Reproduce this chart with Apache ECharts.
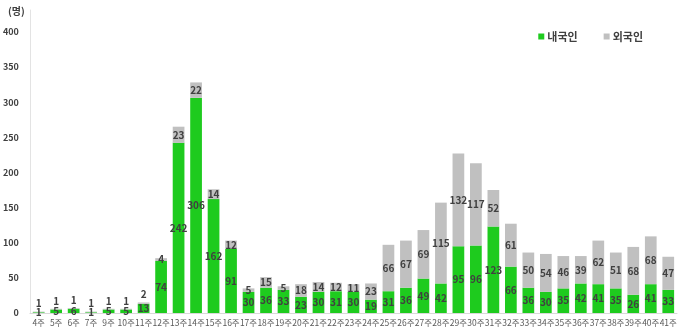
<!DOCTYPE html>
<html><head><meta charset="utf-8">
<script src="https://cdn.jsdelivr.net/npm/echarts@6/dist/echarts.min.js"></script>
<style>html,body{margin:0;padding:0;background:#fff}#c{width:680px;height:334px}</style>
</head><body><div id="c"></div>
<script>
const categories = ['4주','5주','6주','7주','9주','10주','11주','12주','13주','14주','15주','16주','17주','18주','19주','20주','21주','22주','23주','24주','25주','26주','27주','28주','29주','30주','31주','32주','33주','34주','35주','36주','37주','38주','39주','40주','41주'];
const domestic = [1,5,6,1,5,5,13,74,242,306,162,91,30,36,33,23,30,31,30,19,31,36,49,42,95,96,123,66,36,30,35,42,41,35,26,41,33];
const foreign = [1,1,1,1,1,1,2,4,23,22,14,12,5,15,5,18,14,12,11,23,66,67,69,115,132,117,52,61,50,54,46,39,62,51,68,68,47];
const yTicks = [0,50,100,150,200,250,300,350,400];

const FONT = 'Noto Sans CJK KR';
const chart = echarts.init(document.getElementById('c'));
const labelStyle = {show:true, color:'#404040', fontFamily:FONT, fontWeight:'bold', fontSize:10};
const foreignData = foreign.map((v,i)=> {
  const tot = v + domestic[i];
  if (tot < 20) return {value:v, label:{position:'top', distance:3}};
  return v;
});
chart.setOption({
  animation:false,
  title:{text:'(명)', left:3, top:1, textStyle:{fontFamily:FONT, fontSize:10, fontWeight:'bold', color:'#404040'}},
  legend:{right:32, top:26, itemWidth:6, itemHeight:6, itemGap:26, icon:'rect',
    textStyle:{fontFamily:FONT, fontSize:11, fontWeight:'bold', color:'#404040', padding:[0,0,0,-2]},
    data:['내국인','외국인']},
  grid:{left:28, right:3, top:10, bottom:21},
  xAxis:{type:'category', data:categories,
    axisLine:{lineStyle:{color:'#d9d9d9'}}, axisTick:{show:false},
    axisLabel:{fontFamily:FONT, fontSize:8.5, color:'#595959', margin:6, interval:0}},
  yAxis:{type:'value', min:0, max:431, interval:50,
    axisLine:{show:true, lineStyle:{color:'#e3e3e3'}}, axisTick:{show:false}, splitLine:{show:false},
    axisLabel:{showMaxLabel:false, fontFamily:FONT, fontSize:9, fontWeight:'bold', color:'#404040', margin:11,
      formatter:v=> yTicks.indexOf(v)>=0 ? String(v) : ''}},
  series:[
    {name:'내국인', type:'bar', stack:'t', barWidth:'67%', data:domestic,
     itemStyle:{color:'#1ecb1e'}, label:Object.assign({position:'inside'}, labelStyle)},
    {name:'외국인', type:'bar', stack:'t', data:foreignData,
     itemStyle:{color:'#c0c0c0'}, label:Object.assign({position:'inside'}, labelStyle)}
  ]
});
</script></body></html>
